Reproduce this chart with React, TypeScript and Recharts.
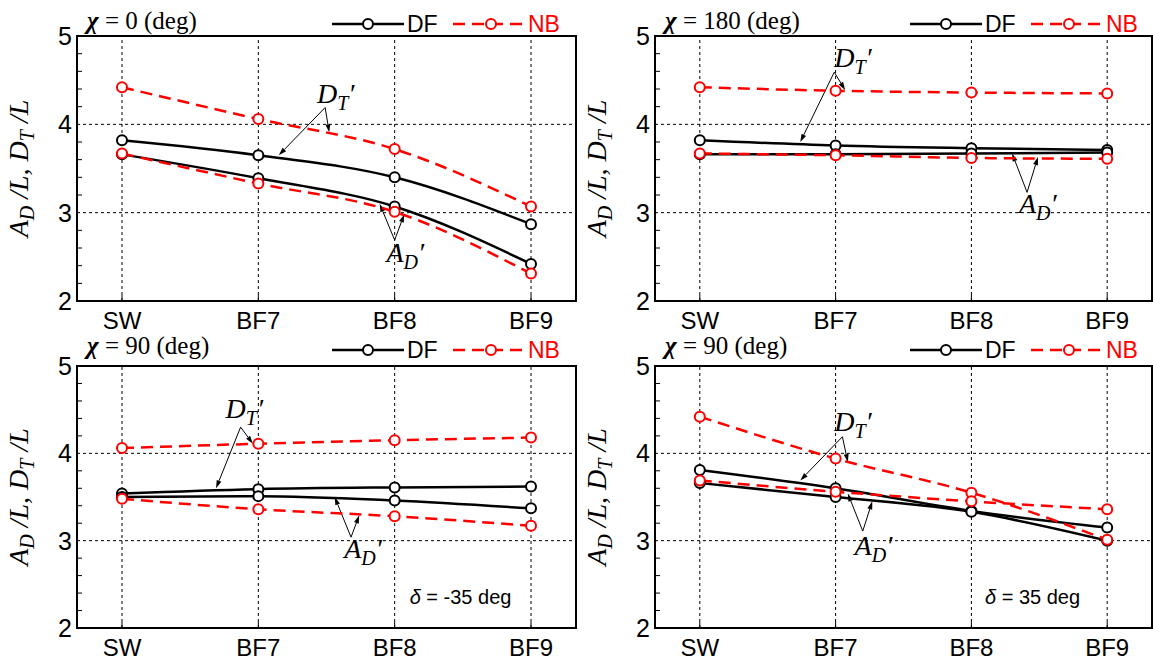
import React from "react";
import {
  LineChart,
  Line,
  XAxis,
  YAxis,
  ReferenceLine,
  ReferenceDot,
  ReferenceArea,
} from "recharts";

const categories = ["SW", "BF7", "BF8", "BF9"];
const xTicks = [0, 1, 2, 3];
const yMajorTicks = [2, 3, 4, 5];
const yAllTicks = [2, 2.2, 2.4, 2.6, 2.8, 3, 3.2, 3.4, 3.6, 3.8, 4, 4.2, 4.4, 4.6, 4.8, 5];

// chi = 0
const chi0DfDt = [3.82, 3.65, 3.4, 2.87];
const chi0DfAd = [3.66, 3.39, 3.07, 2.42];
const chi0NbDt = [4.42, 4.06, 3.72, 3.07];
const chi0NbAd = [3.67, 3.33, 3.01, 2.31];

// chi = 180
const chi180DfDt = [3.82, 3.76, 3.73, 3.71];
const chi180DfAd = [3.66, 3.66, 3.67, 3.68];
const chi180NbDt = [4.42, 4.38, 4.36, 4.35];
const chi180NbAd = [3.67, 3.65, 3.62, 3.61];

// chi = 90, delta = -35
const chi90mDfDt = [3.54, 3.59, 3.61, 3.62];
const chi90mDfAd = [3.5, 3.51, 3.46, 3.37];
const chi90mNbDt = [4.06, 4.11, 4.15, 4.18];
const chi90mNbAd = [3.48, 3.36, 3.28, 3.17];

// chi = 90, delta = 35
const chi90pDfDt = [3.81, 3.6, 3.34, 3.15];
const chi90pDfAd = [3.66, 3.5, 3.33, 3.0];
const chi90pNbDt = [4.42, 3.94, 3.55, 3.01];
const chi90pNbAd = [3.69, 3.56, 3.45, 3.36];

type P = [number, number];

interface Note {
  main: string;
  sub: string;
  at: P;
  apex: P;
  targets: P[];
}

interface PanelDef {
  title: string;
  delta?: string;
  deltaAt?: P;
  dfDt: number[];
  dfAd: number[];
  nbDt: number[];
  nbAd: number[];
  notes: Note[];
  left: number;
  top: number;
  width: number;
  height: number;
  margin: { top: number; right: number; bottom: number; left: number };
  titleDy: number;
  legendDy: number;
}

const SANS = "'Liberation Sans', Arial, sans-serif";
const SERIF = "'Liberation Serif', 'Times New Roman', serif";
const RED = "#ff0000";

const panels: PanelDef[] = [
  {
    title: "0",
    dfDt: chi0DfDt,
    dfAd: chi0DfAd,
    nbDt: chi0NbDt,
    nbAd: chi0NbAd,
    notes: [
      { main: "D", sub: "T", at: [1.43, 4.24], apex: [1.49, 4.19], targets: [[1.15, 3.65], [1.52, 3.91]] },
      { main: "A", sub: "D", at: [1.94, 2.44], apex: [2.0, 2.69], targets: [[1.89, 3.1], [2.07, 2.98]] },
    ],
    left: 0,
    top: 0,
    width: 580,
    height: 340,
    margin: { top: 36, right: 4, bottom: 9, left: 47 },
    titleDy: -7,
    legendDy: -12,
  },
  {
    title: "180",
    dfDt: chi180DfDt,
    dfAd: chi180DfAd,
    nbDt: chi180NbDt,
    nbAd: chi180NbAd,
    notes: [
      { main: "D", sub: "T", at: [0.99, 4.65], apex: [0.99, 4.59], targets: [[0.74, 3.8], [1.07, 4.39]] },
      { main: "A", sub: "D", at: [2.35, 3.0], apex: [2.41, 3.23], targets: [[2.3, 3.67], [2.49, 3.63]] },
    ],
    left: 576,
    top: 0,
    width: 577,
    height: 340,
    margin: { top: 36, right: 1, bottom: 9, left: 49 },
    titleDy: -7,
    legendDy: -12,
  },
  {
    title: "90",
    delta: "-35",
    deltaAt: [2.11, 2.28],
    dfDt: chi90mDfDt,
    dfAd: chi90mDfAd,
    nbDt: chi90mNbDt,
    nbAd: chi90mNbAd,
    notes: [
      { main: "D", sub: "T", at: [0.76, 4.4], apex: [0.87, 4.3], targets: [[0.69, 3.6], [0.96, 4.11]] },
      { main: "A", sub: "D", at: [1.63, 2.8], apex: [1.68, 3.04], targets: [[1.56, 3.5], [1.74, 3.29]] },
    ],
    left: 0,
    top: 332,
    width: 580,
    height: 332,
    margin: { top: 34, right: 4, bottom: 6, left: 47 },
    titleDy: -12,
    legendDy: -16,
  },
  {
    title: "90",
    delta: "35",
    deltaAt: [2.1, 2.28],
    dfDt: chi90pDfDt,
    dfAd: chi90pDfAd,
    nbDt: chi90pNbDt,
    nbAd: chi90pNbAd,
    notes: [
      { main: "D", sub: "T", at: [0.99, 4.26], apex: [1.05, 4.19], targets: [[0.74, 3.69], [1.09, 3.9]] },
      { main: "A", sub: "D", at: [1.14, 2.84], apex: [1.2, 3.11], targets: [[1.09, 3.54], [1.27, 3.45]] },
    ],
    left: 576,
    top: 332,
    width: 577,
    height: 332,
    margin: { top: 34, right: 1, bottom: 6, left: 49 },
    titleDy: -12,
    legendDy: -16,
  },
];

const Y_AXIS_W = 30;
const X_AXIS_H = 30;

const isMajor = (v: number) => Math.abs(v - Math.round(v)) < 1e-6;

const LeftTick = (props: any) => {
  const { x, y, payload } = props;
  const v = payload.value;
  if (isMajor(v)) {
    return (
      <text x={x} y={y + 9} textAnchor="end" fontFamily={SANS} fontSize={25} fill="#000">
        {v}
      </text>
    );
  }
  return <line x1={x + 5} x2={x + 10} y1={y} y2={y} stroke="#000" strokeWidth={1} />;
};

const RightTick = (props: any) => {
  const { x, y, payload } = props;
  if (isMajor(payload.value)) return <g />;
  return <line x1={x - 5} x2={x} y1={y} y2={y} stroke="#000" strokeWidth={1} />;
};

const BottomTick = (props: any) => {
  const { x, y, payload } = props;
  return (
    <g>
      <line x1={x} x2={x} y1={y - 6} y2={y} stroke="#000" strokeWidth={1} />
      <text x={x} y={y + 28} textAnchor="middle" fontFamily={SANS} fontSize={24} fill="#000">
        {categories[payload.value]}
      </text>
    </g>
  );
};

const Arrow = (props: any) => {
  const { x1, y1, x2, y2 } = props;
  if ([x1, y1, x2, y2].some((v) => typeof v !== "number" || isNaN(v))) return <g />;
  const ang = Math.atan2(y2 - y1, x2 - x1);
  const len = 8;
  const half = 2.5;
  const bx = x2 - len * Math.cos(ang);
  const by = y2 - len * Math.sin(ang);
  const px = -Math.sin(ang) * half;
  const py = Math.cos(ang) * half;
  return (
    <g>
      <line x1={x1} y1={y1} x2={bx} y2={by} stroke="#000" strokeWidth={1} />
      <polygon points={`${x2},${y2} ${bx + px},${by + py} ${bx - px},${by - py}`} fill="#000" />
    </g>
  );
};

const noteShape = (note: Note) => (props: any) => {
  const { cx, cy } = props;
  return (
    <text x={cx} y={cy} fontFamily={SERIF} fontStyle="italic" fontSize={28} fill="#000">
      {note.main}
      <tspan fontSize={20} dy={7}>
        {note.sub}
      </tspan>
      <tspan fontSize={28} dy={-7}>
        {"\u2032"}
      </tspan>
    </text>
  );
};

const deltaShape = (text: string) => (props: any) => {
  const { cx, cy } = props;
  return (
    <text x={cx} y={cy} fontFamily={SANS} fontSize={20} fill="#000">
      <tspan fontStyle="italic">δ</tspan>
      {` = ${text} deg`}
    </text>
  );
};

function Panel({ p }: { p: PanelDef }) {
  const rows = categories.map((c, i) => ({
    x: i,
    name: c,
    dfDt: p.dfDt[i],
    dfAd: p.dfAd[i],
    nbDt: p.nbDt[i],
    nbAd: p.nbAd[i],
  }));
  const pl = p.margin.left + Y_AXIS_W;
  const pt = p.margin.top;
  const pb = p.height - p.margin.bottom - X_AXIS_H;
  const lx = pl + 255;
  const ly = pt + p.legendDy;

  return (
    <div style={{ position: "absolute", left: p.left, top: p.top, width: p.width, height: p.height }}>
      <LineChart width={p.width} height={p.height} data={rows} margin={p.margin}>
        <XAxis
          dataKey="x"
          type="number"
          domain={[-0.33, 3.33]}
          ticks={xTicks}
          interval={0}
          height={X_AXIS_H}
          axisLine={false}
          tickLine={false}
          tickSize={0}
          tickMargin={0}
          tick={<BottomTick />}
          allowDataOverflow
        />
        <YAxis
          yAxisId="left"
          type="number"
          domain={[2, 5]}
          ticks={yAllTicks}
          interval={0}
          width={Y_AXIS_W}
          axisLine={false}
          tickLine={false}
          tickSize={0}
          tickMargin={5}
          tick={<LeftTick />}
          allowDataOverflow
        />
        <YAxis
          yAxisId="right"
          orientation="right"
          type="number"
          domain={[2, 5]}
          ticks={yAllTicks}
          interval={0}
          width={0}
          axisLine={false}
          tickLine={false}
          tickSize={0}
          tickMargin={0}
          tick={<RightTick />}
          allowDataOverflow
        />

        {xTicks.map((t) => (
          <ReferenceLine key={`vx${t}`} x={t} yAxisId="left" stroke="#000" strokeWidth={1} strokeDasharray="3 3" />
        ))}
        {yMajorTicks.slice(1, -1).map((t) => (
          <ReferenceLine key={`hy${t}`} y={t} yAxisId="left" stroke="#000" strokeWidth={1} strokeDasharray="3 3" />
        ))}
        <ReferenceArea
          yAxisId="left"
          x1={-0.33}
          x2={3.33}
          y1={2}
          y2={5}
          fill="none"
          fillOpacity={0}
          stroke="#000"
          strokeWidth={2}
          ifOverflow="visible"
        />

        {p.notes.map((n, i) =>
          n.targets.map((t, j) => (
            <ReferenceLine
              key={`ar${i}${j}`}
              yAxisId="left"
              segment={[
                { x: n.apex[0], y: n.apex[1] },
                { x: t[0], y: t[1] },
              ]}
              shape={<Arrow />}
              ifOverflow="visible"
            />
          ))
        )}
        {p.notes.map((n, i) => (
          <ReferenceDot
            key={`nt${i}`}
            yAxisId="left"
            x={n.at[0]}
            y={n.at[1]}
            r={0}
            shape={noteShape(n)}
            ifOverflow="visible"
          />
        ))}
        {p.delta && p.deltaAt && (
          <ReferenceDot
            yAxisId="left"
            x={p.deltaAt[0]}
            y={p.deltaAt[1]}
            r={0}
            shape={deltaShape(p.delta)}
            ifOverflow="visible"
          />
        )}

        <Line yAxisId="left" type="monotone" dataKey="dfDt" stroke="#000" strokeWidth={2.5}
          dot={{ r: 5, stroke: "#000", strokeWidth: 2, fill: "#fff" }} isAnimationActive={false} />
        <Line yAxisId="left" type="monotone" dataKey="dfAd" stroke="#000" strokeWidth={2.5}
          dot={{ r: 5, stroke: "#000", strokeWidth: 2, fill: "#fff" }} isAnimationActive={false} />
        <Line yAxisId="left" type="monotone" dataKey="nbDt" stroke={RED} strokeWidth={2.5} strokeDasharray="12 7"
          dot={{ r: 5, stroke: RED, strokeWidth: 2, fill: "#fff", strokeDasharray: "0" }} isAnimationActive={false} />
        <Line yAxisId="left" type="monotone" dataKey="nbAd" stroke={RED} strokeWidth={2.5} strokeDasharray="12 7"
          dot={{ r: 5, stroke: RED, strokeWidth: 2, fill: "#fff", strokeDasharray: "0" }} isAnimationActive={false} />
      </LineChart>

      <svg
        width={p.width}
        height={p.height}
        style={{ position: "absolute", left: 0, top: 0, pointerEvents: "none" }}
      >
        <text x={pl + 10} y={pt + p.titleDy} fontFamily={SERIF} fontSize={25} fill="#000">
          <tspan fontStyle="italic" fontWeight="bold">χ</tspan>
          {` = ${p.title} (deg)`}
        </text>

        <line x1={lx} x2={lx + 72} y1={ly} y2={ly} stroke="#000" strokeWidth={2.5} />
        <circle cx={lx + 36} cy={ly} r={5} stroke="#000" strokeWidth={2} fill="#fff" />
        <text x={lx + 75} y={ly + 8} fontFamily={SANS} fontSize={23} fill="#000">DF</text>
        <line x1={lx + 121} x2={lx + 193} y1={ly} y2={ly} stroke={RED} strokeWidth={2.5} strokeDasharray="12 7" />
        <circle cx={lx + 159} cy={ly} r={5} stroke={RED} strokeWidth={2} fill="#fff" />
        <text x={lx + 196} y={ly + 8} fontFamily={SANS} fontSize={23} fill={RED}>NB</text>

        <text
          x={pl - 49}
          y={(pt + pb) / 2}
          transform={`rotate(-90 ${pl - 49} ${(pt + pb) / 2})`}
          textAnchor="middle"
          fontFamily={SERIF}
          fontStyle="italic"
          fontSize={28}
          fill="#000"
        >
          A
          <tspan fontSize={20} dy={6}>D</tspan>
          <tspan fontSize={28} dy={-6}>{" /L, D"}</tspan>
          <tspan fontSize={20} dy={6}>T</tspan>
          <tspan fontSize={28} dy={-6}>{" /L"}</tspan>
        </text>
      </svg>
    </div>
  );
}

export default function App() {
  return (
    <div style={{ position: "absolute", left: 0, top: 0, width: 1153, height: 664, background: "#fff" }}>
      {panels.map((p, i) => (
        <Panel key={i} p={p} />
      ))}
    </div>
  );
}
